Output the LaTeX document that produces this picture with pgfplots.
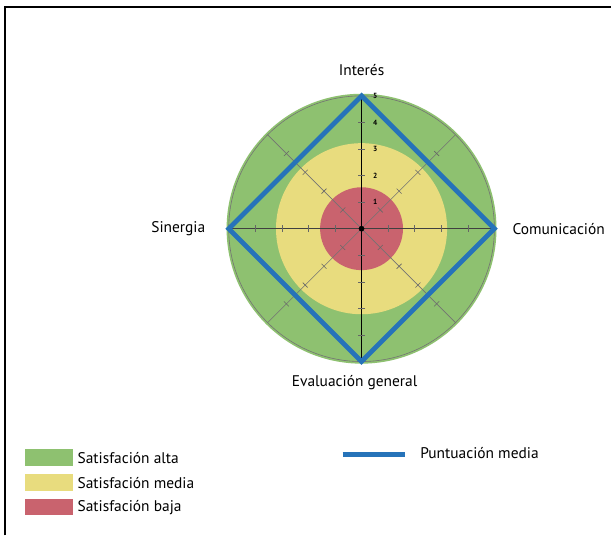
\documentclass[border=0pt]{standalone}
\usepackage{fontspec}
\setmainfont{PT Sans}
\usepackage{pgfplots}
\pgfplotsset{compat=1.18}

\definecolor{altaG}{RGB}{142,193,112}
\definecolor{mediaY}{RGB}{232,220,126}
\definecolor{bajaR}{RGB}{201,99,110}
\definecolor{puntB}{RGB}{38,115,185}

\begin{document}
\begin{tikzpicture}
\begin{axis}[
    x=26.6bp, y=26.6bp,
    xmin=-13.609, xmax=9.398,
    ymin=-11.541, ymax=8.609,
    hide axis, clip=false,
    font=\fontsize{15.5}{17}\selectfont,
]
  % page extent and frame
  \path (axis cs:-13.609,-11.541) rectangle (axis cs:9.398,8.609);
  \draw[line width=1.6bp] (axis cs:-13.42,-11.541) -- (axis cs:-13.42,8.35) -- (axis cs:9.398,8.35);

  % satisfaction bands
  \fill[altaG] (axis cs:0,0) circle[radius=5.08];
  \draw[black!55, line width=0.6bp] (axis cs:0,0) circle[radius=5];
  \fill[mediaY] (axis cs:0,0) circle[radius=3.22];
  \fill[bajaR] (axis cs:0,0) circle[radius=1.56];

  % spokes
  \draw[black!55, line width=0.6bp] (axis cs:-3.536,-3.536) -- (axis cs:3.536,3.536);
  \draw[black!55, line width=0.6bp] (axis cs:-3.536,3.536) -- (axis cs:3.536,-3.536);
  \draw[black!75, line width=1bp] (axis cs:-5,0) -- (axis cs:5,0);
  \draw[black, line width=1.2bp] (axis cs:0,-5) -- (axis cs:0,5);

  % ticks on every spoke
  \pgfplotsinvokeforeach{0,45,90,135,180,225,270,315}{
    \addplot[data cs=polar, only marks, mark=|, mark size=3.5bp,
      mark options={rotate=#1, black!60, line width=0.6bp}]
      coordinates {(#1,1) (#1,2) (#1,3) (#1,4)};
  }
  \addplot[only marks, mark=*, mark size=2.6bp, black] coordinates {(0,0)};

  % scale labels
  \node[font=\fontsize{7.5}{8}\selectfont\bfseries, anchor=west] at (axis cs:0.3,1) {1};
  \node[font=\fontsize{7.5}{8}\selectfont\bfseries, anchor=west] at (axis cs:0.3,2) {2};
  \node[font=\fontsize{7.5}{8}\selectfont\bfseries, anchor=west] at (axis cs:0.3,3) {3};
  \node[font=\fontsize{7.5}{8}\selectfont\bfseries, anchor=west] at (axis cs:0.3,4) {4};
  \node[font=\fontsize{7.5}{8}\selectfont\bfseries, anchor=west] at (axis cs:0.3,5) {5};

  % average score
  \addplot[puntB, line width=4.8bp, line join=miter, data cs=polar] coordinates {
    (90,5) (0,5) (-90,5) (180,5)
  } -- cycle;

  % axis names
  \node at (axis cs:0,5.98) {Interés};
  \node[anchor=west] at (axis cs:5.55,0) {Comunicación};
  \node[anchor=east] at (axis cs:-5.75,0) {Sinergia};
  \node at (axis cs:-0.26,-5.79) {Evaluación general};

  % legend
  \fill[altaG] (axis cs:-12.67,-8.31) rectangle (axis cs:-10.86,-8.95);
  \fill[mediaY] (axis cs:-12.67,-9.25) rectangle (axis cs:-10.86,-9.89);
  \fill[bajaR] (axis cs:-12.67,-10.19) rectangle (axis cs:-10.86,-10.79);
  \node[anchor=west] at (axis cs:-10.82,-8.63) {Satisfación alta};
  \node[anchor=west] at (axis cs:-10.82,-9.57) {Satisfación media};
  \node[anchor=west] at (axis cs:-10.82,-10.51) {Satisfación baja};
  \draw[puntB, line width=4.8bp] (axis cs:-0.71,-8.5) -- (axis cs:1.62,-8.5);
  \node[anchor=west] at (axis cs:2.08,-8.46) {Puntuación media};
\end{axis}
\end{tikzpicture}
\end{document}
